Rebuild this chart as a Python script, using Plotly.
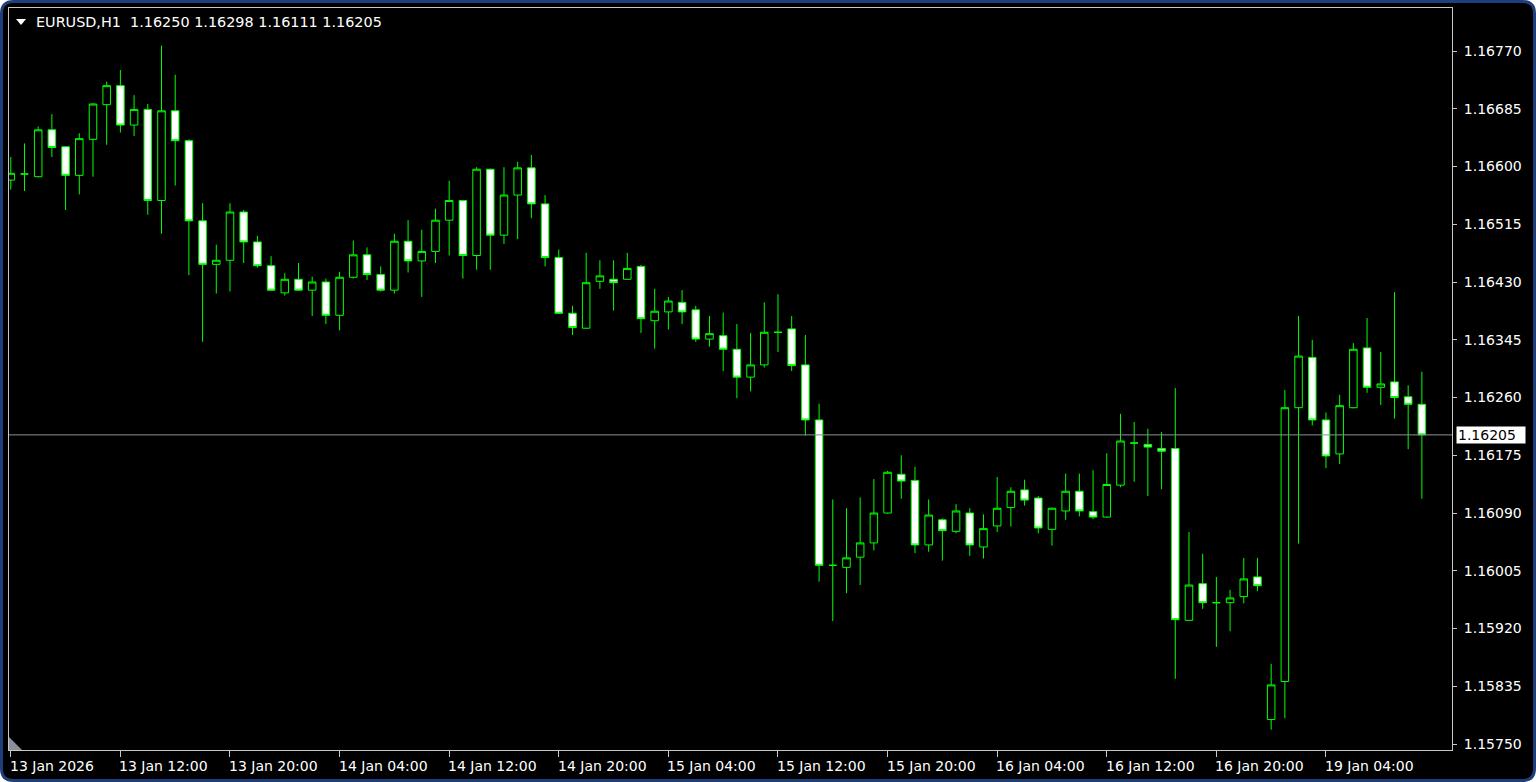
import pandas as pd
import plotly.graph_objects as go

# --- data (EURUSD, H1) ---
symbol = "EURUSD,H1"
last_quote = [1.16250, 1.16298, 1.16111, 1.16205]
bid_price = 1.16205

opens = [1.16580, 1.16589, 1.16585, 1.16654, 1.16629, 1.16587, 1.16640, 1.16691, 1.16719, 1.16661,
         1.16684, 1.16550, 1.16682, 1.16638, 1.16520, 1.16456, 1.16462, 1.16533, 1.16489, 1.16454,
         1.16414, 1.16434, 1.16418, 1.16430, 1.16381, 1.16437, 1.16470, 1.16441, 1.16418, 1.16490,
         1.16461, 1.16475, 1.16521, 1.16550, 1.16469, 1.16596, 1.16499, 1.16558, 1.16598, 1.16545,
         1.16466, 1.16384, 1.16362, 1.16431, 1.16434, 1.16434, 1.16453, 1.16373, 1.16386, 1.16400,
         1.16389, 1.16346, 1.16351, 1.16331, 1.16290, 1.16308, 1.16356, 1.16361, 1.16308, 1.16227,
         1.16013, 1.16010, 1.16025, 1.16046, 1.16090, 1.16147, 1.16138, 1.16043, 1.16080, 1.16063,
         1.16090, 1.16040, 1.16071, 1.16098, 1.16124, 1.16112, 1.16066, 1.16093, 1.16122, 1.16092,
         1.16084, 1.16131, 1.16193, 1.16191, 1.16185, 1.16185, 1.15932, 1.15986, 1.15958, 1.15958,
         1.15967, 1.15996, 1.15786, 1.15842, 1.16245, 1.16319, 1.16227, 1.16177, 1.16245, 1.16333,
         1.16275, 1.16283, 1.16261, 1.16250]
highs = [1.16614, 1.16634, 1.16659, 1.16677, 1.16630, 1.16649, 1.16693, 1.16725, 1.16742, 1.16705,
         1.16692, 1.16778, 1.16735, 1.16640, 1.16546, 1.16485, 1.16546, 1.16536, 1.16498, 1.16468,
         1.16443, 1.16458, 1.16438, 1.16435, 1.16445, 1.16491, 1.16481, 1.16453, 1.16501, 1.16521,
         1.16507, 1.16538, 1.16579, 1.16551, 1.16599, 1.16597, 1.16599, 1.16607, 1.16617, 1.16558,
         1.16478, 1.16395, 1.16473, 1.16462, 1.16462, 1.16473, 1.16455, 1.16420, 1.16408, 1.16418,
         1.16395, 1.16380, 1.16385, 1.16368, 1.16355, 1.16400, 1.16412, 1.16380, 1.16352, 1.16251,
         1.16110, 1.16097, 1.16113, 1.16140, 1.16152, 1.16175, 1.16158, 1.16110, 1.16082, 1.16103,
         1.16097, 1.16088, 1.16143, 1.16128, 1.16139, 1.16115, 1.16098, 1.16148, 1.16148, 1.16153,
         1.16178, 1.16236, 1.16224, 1.16214, 1.16209, 1.16274, 1.16062, 1.16030, 1.15996, 1.15977,
         1.16024, 1.16024, 1.15868, 1.16271, 1.16380, 1.16345, 1.16238, 1.16264, 1.16340, 1.16377,
         1.16327, 1.16415, 1.16278, 1.16298]
lows = [1.16566, 1.16564, 1.16584, 1.16614, 1.16536, 1.16559, 1.16585, 1.16632, 1.16650, 1.16645,
        1.16529, 1.16501, 1.16572, 1.16440, 1.16342, 1.16413, 1.16416, 1.16458, 1.16451, 1.16417,
        1.16410, 1.16417, 1.16380, 1.16368, 1.16359, 1.16435, 1.16433, 1.16416, 1.16413, 1.16444,
        1.16408, 1.16458, 1.16469, 1.16435, 1.16448, 1.16448, 1.16486, 1.16493, 1.16524, 1.16453,
        1.16383, 1.16352, 1.16361, 1.16420, 1.16388, 1.16433, 1.16355, 1.16332, 1.16360, 1.16368,
        1.16342, 1.16335, 1.16299, 1.16259, 1.16269, 1.16304, 1.16327, 1.16299, 1.16204, 1.15989,
        1.15931, 1.15972, 1.15984, 1.16035, 1.16089, 1.16111, 1.16031, 1.16033, 1.16020, 1.16060,
        1.16027, 1.16023, 1.16062, 1.16070, 1.16101, 1.16060, 1.16042, 1.16080, 1.16085, 1.16081,
        1.16083, 1.16128, 1.16136, 1.16115, 1.16125, 1.15846, 1.15931, 1.15949, 1.15893, 1.15916,
        1.15957, 1.15975, 1.15771, 1.15788, 1.16045, 1.16219, 1.16156, 1.16162, 1.16244, 1.16267,
        1.16249, 1.16229, 1.16184, 1.16111]
closes = [1.16590, 1.16589, 1.16654, 1.16628, 1.16587, 1.16641, 1.16692, 1.16719, 1.16661, 1.16684,
          1.16550, 1.16682, 1.16638, 1.16520, 1.16456, 1.16462, 1.16533, 1.16489, 1.16454, 1.16418,
          1.16434, 1.16418, 1.16430, 1.16381, 1.16437, 1.16470, 1.16441, 1.16418, 1.16490, 1.16461,
          1.16475, 1.16521, 1.16550, 1.16469, 1.16596, 1.16499, 1.16558, 1.16598, 1.16545, 1.16466,
          1.16384, 1.16363, 1.16429, 1.16439, 1.16429, 1.16450, 1.16376, 1.16387, 1.16402, 1.16386,
          1.16346, 1.16354, 1.16331, 1.16290, 1.16308, 1.16356, 1.16356, 1.16307, 1.16227, 1.16013,
          1.16013, 1.16024, 1.16046, 1.16090, 1.16150, 1.16137, 1.16043, 1.16087, 1.16064, 1.16093,
          1.16043, 1.16067, 1.16097, 1.16122, 1.16109, 1.16068, 1.16097, 1.16122, 1.16093, 1.16084,
          1.16132, 1.16196, 1.16193, 1.16187, 1.16181, 1.15933, 1.15984, 1.15958, 1.15958, 1.15965,
          1.15993, 1.15983, 1.15837, 1.16245, 1.16321, 1.16227, 1.16174, 1.16248, 1.16331, 1.16275,
          1.16280, 1.16260, 1.16250, 1.16205]

# hourly bars, weekend skipped
bar_times = list(pd.date_range("2026-01-13 04:00", "2026-01-16 23:00", freq="h")) + list(
    pd.date_range("2026-01-19 00:00", "2026-01-19 11:00", freq="h")
)
bar_keys = [t.strftime("%Y-%m-%d %H:%M") for t in bar_times]

time_tick_keys = bar_keys[::8]
time_tick_labels = ["13 Jan 2026", "13 Jan 12:00", "13 Jan 20:00", "14 Jan 04:00", "14 Jan 12:00",
                    "14 Jan 20:00", "15 Jan 04:00", "15 Jan 12:00", "15 Jan 20:00", "16 Jan 04:00",
                    "16 Jan 12:00", "16 Jan 20:00", "19 Jan 04:00"]
price_ticks = [1.15750, 1.15835, 1.15920, 1.16005, 1.16090, 1.16175, 1.16260,
               1.16345, 1.16430, 1.16515, 1.16600, 1.16685, 1.16770]

# --- page geometry (pixels) ---
W, H = 1536, 782
PL, PR, PT, PB = 9, 1452, 8, 750
PW, PH = PR - PL, PB - PT

GREEN = "#00FF00"
FRAME = "#C8C8C8"
FONT = "DejaVu Sans"


def px_x(p):
    return (p - PL) / PW


def px_y(q):
    return (PB - q) / PH


fig = go.Figure()
fig.add_candlestick(
    x=bar_keys,
    open=opens,
    high=highs,
    low=lows,
    close=closes,
    increasing=dict(line=dict(color=GREEN, width=1), fillcolor="#000000"),
    decreasing=dict(line=dict(color=GREEN, width=1), fillcolor="#FFFFFF"),
    whiskerwidth=0,
    hoverinfo="skip",
    showlegend=False,
)

# window frame with rounded corners
x0, x1 = px_x(1.5), px_x(W - 1.5)
y0, y1 = px_y(1.5), px_y(H - 1.5)
rx, ry = 12 / PW, 12 / PH
border = (
    f"M {x0 + rx},{y0} L {x1 - rx},{y0} Q {x1},{y0} {x1},{y0 - ry} "
    f"L {x1},{y1 + ry} Q {x1},{y1} {x1 - rx},{y1} "
    f"L {x0 + rx},{y1} Q {x0},{y1} {x0},{y1 + ry} "
    f"L {x0},{y0 - ry} Q {x0},{y0} {x0 + rx},{y0} Z"
)
fig.add_shape(type="path", path=border, xref="paper", yref="paper",
              fillcolor="#000000", line=dict(color="#1E3F7A", width=3), layer="below")

# bid line
fig.add_shape(type="line", xref="paper", x0=0, x1=1, yref="y", y0=bid_price, y1=bid_price,
              line=dict(color="#8A9099", width=1))

# chart shift marker, bottom-left
fig.add_shape(type="path", xref="paper", yref="paper",
              path=f"M {px_x(9)},{px_y(737)} L {px_x(9)},{px_y(750)} L {px_x(22)},{px_y(750)} Z",
              fillcolor="#8A8F99", line=dict(width=0))

# dropdown triangle before the symbol
fig.add_shape(type="path", xref="paper", yref="paper",
              path=f"M {px_x(16)},{px_y(19)} L {px_x(26)},{px_y(19)} L {px_x(21)},{px_y(25)} Z",
              fillcolor="#FFFFFF", line=dict(width=0))

annotations = []
for key, label in zip(time_tick_keys, time_tick_labels):
    annotations.append(dict(
        x=key, xref="x", y=px_y(766), yref="paper", text=label, showarrow=False,
        xanchor="left", yanchor="middle", xshift=-3,
        font=dict(family=FONT, size=14, color="#FFFFFF"),
    ))

annotations.append(dict(
    x=px_x(34), xref="paper", y=px_y(22), yref="paper",
    text=f"{symbol}  " + " ".join(f"{v:.5f}" for v in last_quote), showarrow=False,
    xanchor="left", yanchor="middle", font=dict(family=FONT, size=14.4, color="#FFFFFF"),
))
annotations.append(dict(
    x=px_x(1456), xref="paper", y=bid_price, yref="y", text=f"{bid_price:.5f}",
    showarrow=False, xanchor="left", yanchor="middle", align="left",
    bgcolor="#FFFFFF", borderpad=1, width=66, height=14,
    font=dict(family=FONT, size=14, color="#000000"),
))

fig.update_layout(
    width=W,
    height=H,
    margin=dict(l=PL, r=W - PR, t=PT, b=H - PB, autoexpand=False),
    paper_bgcolor="#FFFFFF",
    plot_bgcolor="#000000",
    boxgap=0.45,
    boxgroupgap=0,
    hovermode=False,
    showlegend=False,
    annotations=annotations,
    xaxis=dict(
        type="category",
        range=[-0.131, 105.2],
        rangeslider=dict(visible=False),
        showgrid=False,
        zeroline=False,
        showline=True,
        mirror=True,
        linecolor=FRAME,
        linewidth=1,
        ticks="outside",
        ticklen=6,
        tickcolor=FRAME,
        tickvals=time_tick_keys,
        showticklabels=False,
        fixedrange=True,
    ),
    yaxis=dict(
        side="right",
        range=[1.157412, 1.168333],
        showgrid=False,
        zeroline=False,
        showline=True,
        mirror=True,
        linecolor=FRAME,
        linewidth=1,
        ticks="outside",
        ticklen=4,
        tickcolor=FRAME,
        tickvals=price_ticks,
        tickformat=".5f",
        ticklabelstandoff=4,
        tickfont=dict(family=FONT, size=14, color="#FFFFFF"),
        fixedrange=True,
    ),
)

fig.write_html(
    "out.html",
    config={"displayModeBar": False},
    post_script="document.body.style.margin='0';document.body.style.overflow='hidden';",
)
